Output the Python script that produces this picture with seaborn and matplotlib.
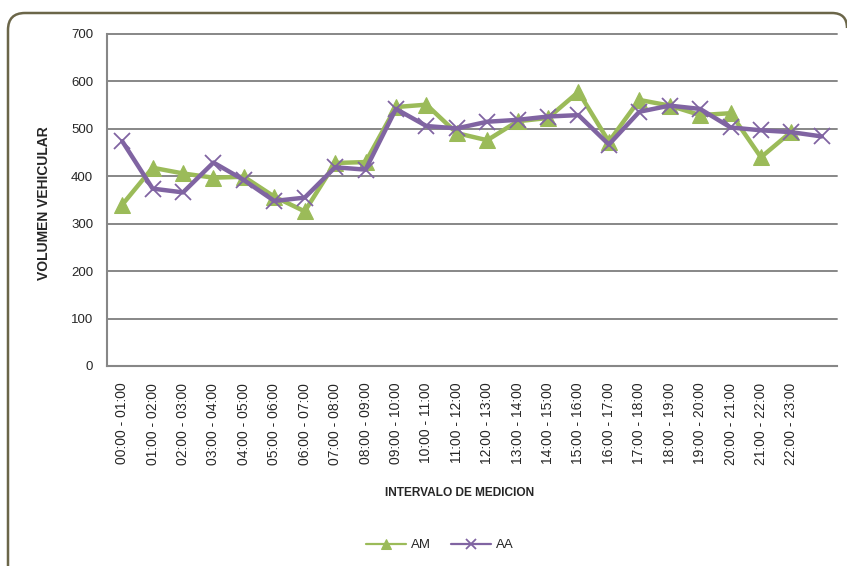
import matplotlib
matplotlib.use("Agg")
import matplotlib.pyplot as plt
from matplotlib.patches import PathPatch
from matplotlib.path import Path
import numpy as np
import pandas as pd
import seaborn as sns

# intervalos (24 categorias, la ultima sin etiqueta)
intervalos = [
    "00:00 - 01:00", "01:00 - 02:00", "02:00 - 03:00", "03:00 - 04:00",
    "04:00 - 05:00", "05:00 - 06:00", "06:00 - 07:00", "07:00 - 08:00",
    "08:00 - 09:00", "09:00 - 10:00", "10:00 - 11:00", "11:00 - 12:00",
    "12:00 - 13:00", "13:00 - 14:00", "14:00 - 15:00", "15:00 - 16:00",
    "16:00 - 17:00", "17:00 - 18:00", "18:00 - 19:00", "19:00 - 20:00",
    "20:00 - 21:00", "21:00 - 22:00", "22:00 - 23:00", "",
]
am = [340, 418, 406, 397, 399, 357, 326, 428, 430, 546, 551, 491,
      476, 516, 523, 578, 473, 561, 549, 529, 533, 440, 494, np.nan]
aa = [474, 374, 366, 429, 392, 348, 355, 419, 414, 542, 506, 501,
      515, 519, 526, 529, 467, 536, 549, 542, 503, 497, 493, 484]

verde = "#9BBB59"
morado = "#8064A2"
gris = "#878787"

sns.set_style("white")
plt.rcParams["font.family"] = ["Liberation Sans", "DejaVu Sans"]
plt.rcParams["savefig.bbox"] = "standard"

df = pd.DataFrame({"pos": np.arange(len(intervalos)), "AM": am, "AA": aa})

W, H = 847, 566
fig = plt.figure(figsize=(W / 100, H / 100), dpi=100)

# marco redondeado (pixeles desde arriba), cortado por la derecha y por abajo
pts = [(8, H), (8, 30), (8, 13), (25, 13), (832, 13), (847, 13), (847, 28)]
codigos = [Path.MOVETO, Path.LINETO, Path.CURVE3, Path.CURVE3,
           Path.LINETO, Path.CURVE3, Path.CURVE3]
verts = [(x / W, 1 - y / H) for x, y in pts]
marco = PathPatch(Path(verts, codigos), transform=fig.transFigure,
                  facecolor="none", edgecolor="#6B6649", linewidth=1.8,
                  zorder=-5)
fig.add_artist(marco)

ax = fig.add_axes([107 / W, 1 - 366 / H, 730 / W, 332 / H])
ax.set_facecolor("none")

sns.lineplot(data=df, x="pos", y="AM", ax=ax, color=verde, linewidth=3.2,
             marker="^", markersize=12, markeredgecolor=verde, label="AM",
             sort=False, zorder=3)
sns.lineplot(data=df, x="pos", y="AA", ax=ax, color=morado, linewidth=3.2,
             marker="x", markersize=11, markeredgewidth=1.3,
             markeredgecolor=morado, label="AA", sort=False, zorder=4)

ax.set_xlim(-0.5, len(intervalos) - 0.5)
ax.set_ylim(0, 700)
ax.set_yticks(range(0, 701, 100))
ax.set_xticks(df["pos"])
ax.set_xticklabels(intervalos, rotation=90, fontsize=10)
ax.tick_params(axis="y", labelsize=9.5, length=4, color=gris, width=1.2, pad=6)
ax.tick_params(axis="x", length=0, pad=12)

ax.grid(axis="y", color=gris, linewidth=1.4)
for linea in ax.get_ygridlines():
    linea.set_clip_on(False)
ax.set_axisbelow(True)
for lado in ["top", "right"]:
    ax.spines[lado].set_visible(False)
for lado in ["left", "bottom"]:
    ax.spines[lado].set_color(gris)
    ax.spines[lado].set_linewidth(1.5)

ax.set_xlabel("INTERVALO DE MEDICION", fontsize=8.6, fontweight="bold")
ax.xaxis.set_label_coords((460 - 107) / 730, (H - 487 - 200) / 332)
ax.set_ylabel("VOLUMEN VEHICULAR", fontsize=10, fontweight="bold")
ax.yaxis.set_label_coords((44 - 107) / 730, (H - 203 - 200) / 332)
ax.yaxis.label.set_verticalalignment("center")

leg = ax.legend(loc="center", bbox_to_anchor=(440 / W, 1 - 545 / H),
                bbox_transform=fig.transFigure, ncol=2, frameon=False,
                fontsize=9.5, handlelength=3.0, columnspacing=1.5,
                handletextpad=0.4)
for h in leg.legend_handles:
    h.set_linewidth(1.6)
    h.set_markersize(7)

fig.savefig("out.png", dpi=100)
